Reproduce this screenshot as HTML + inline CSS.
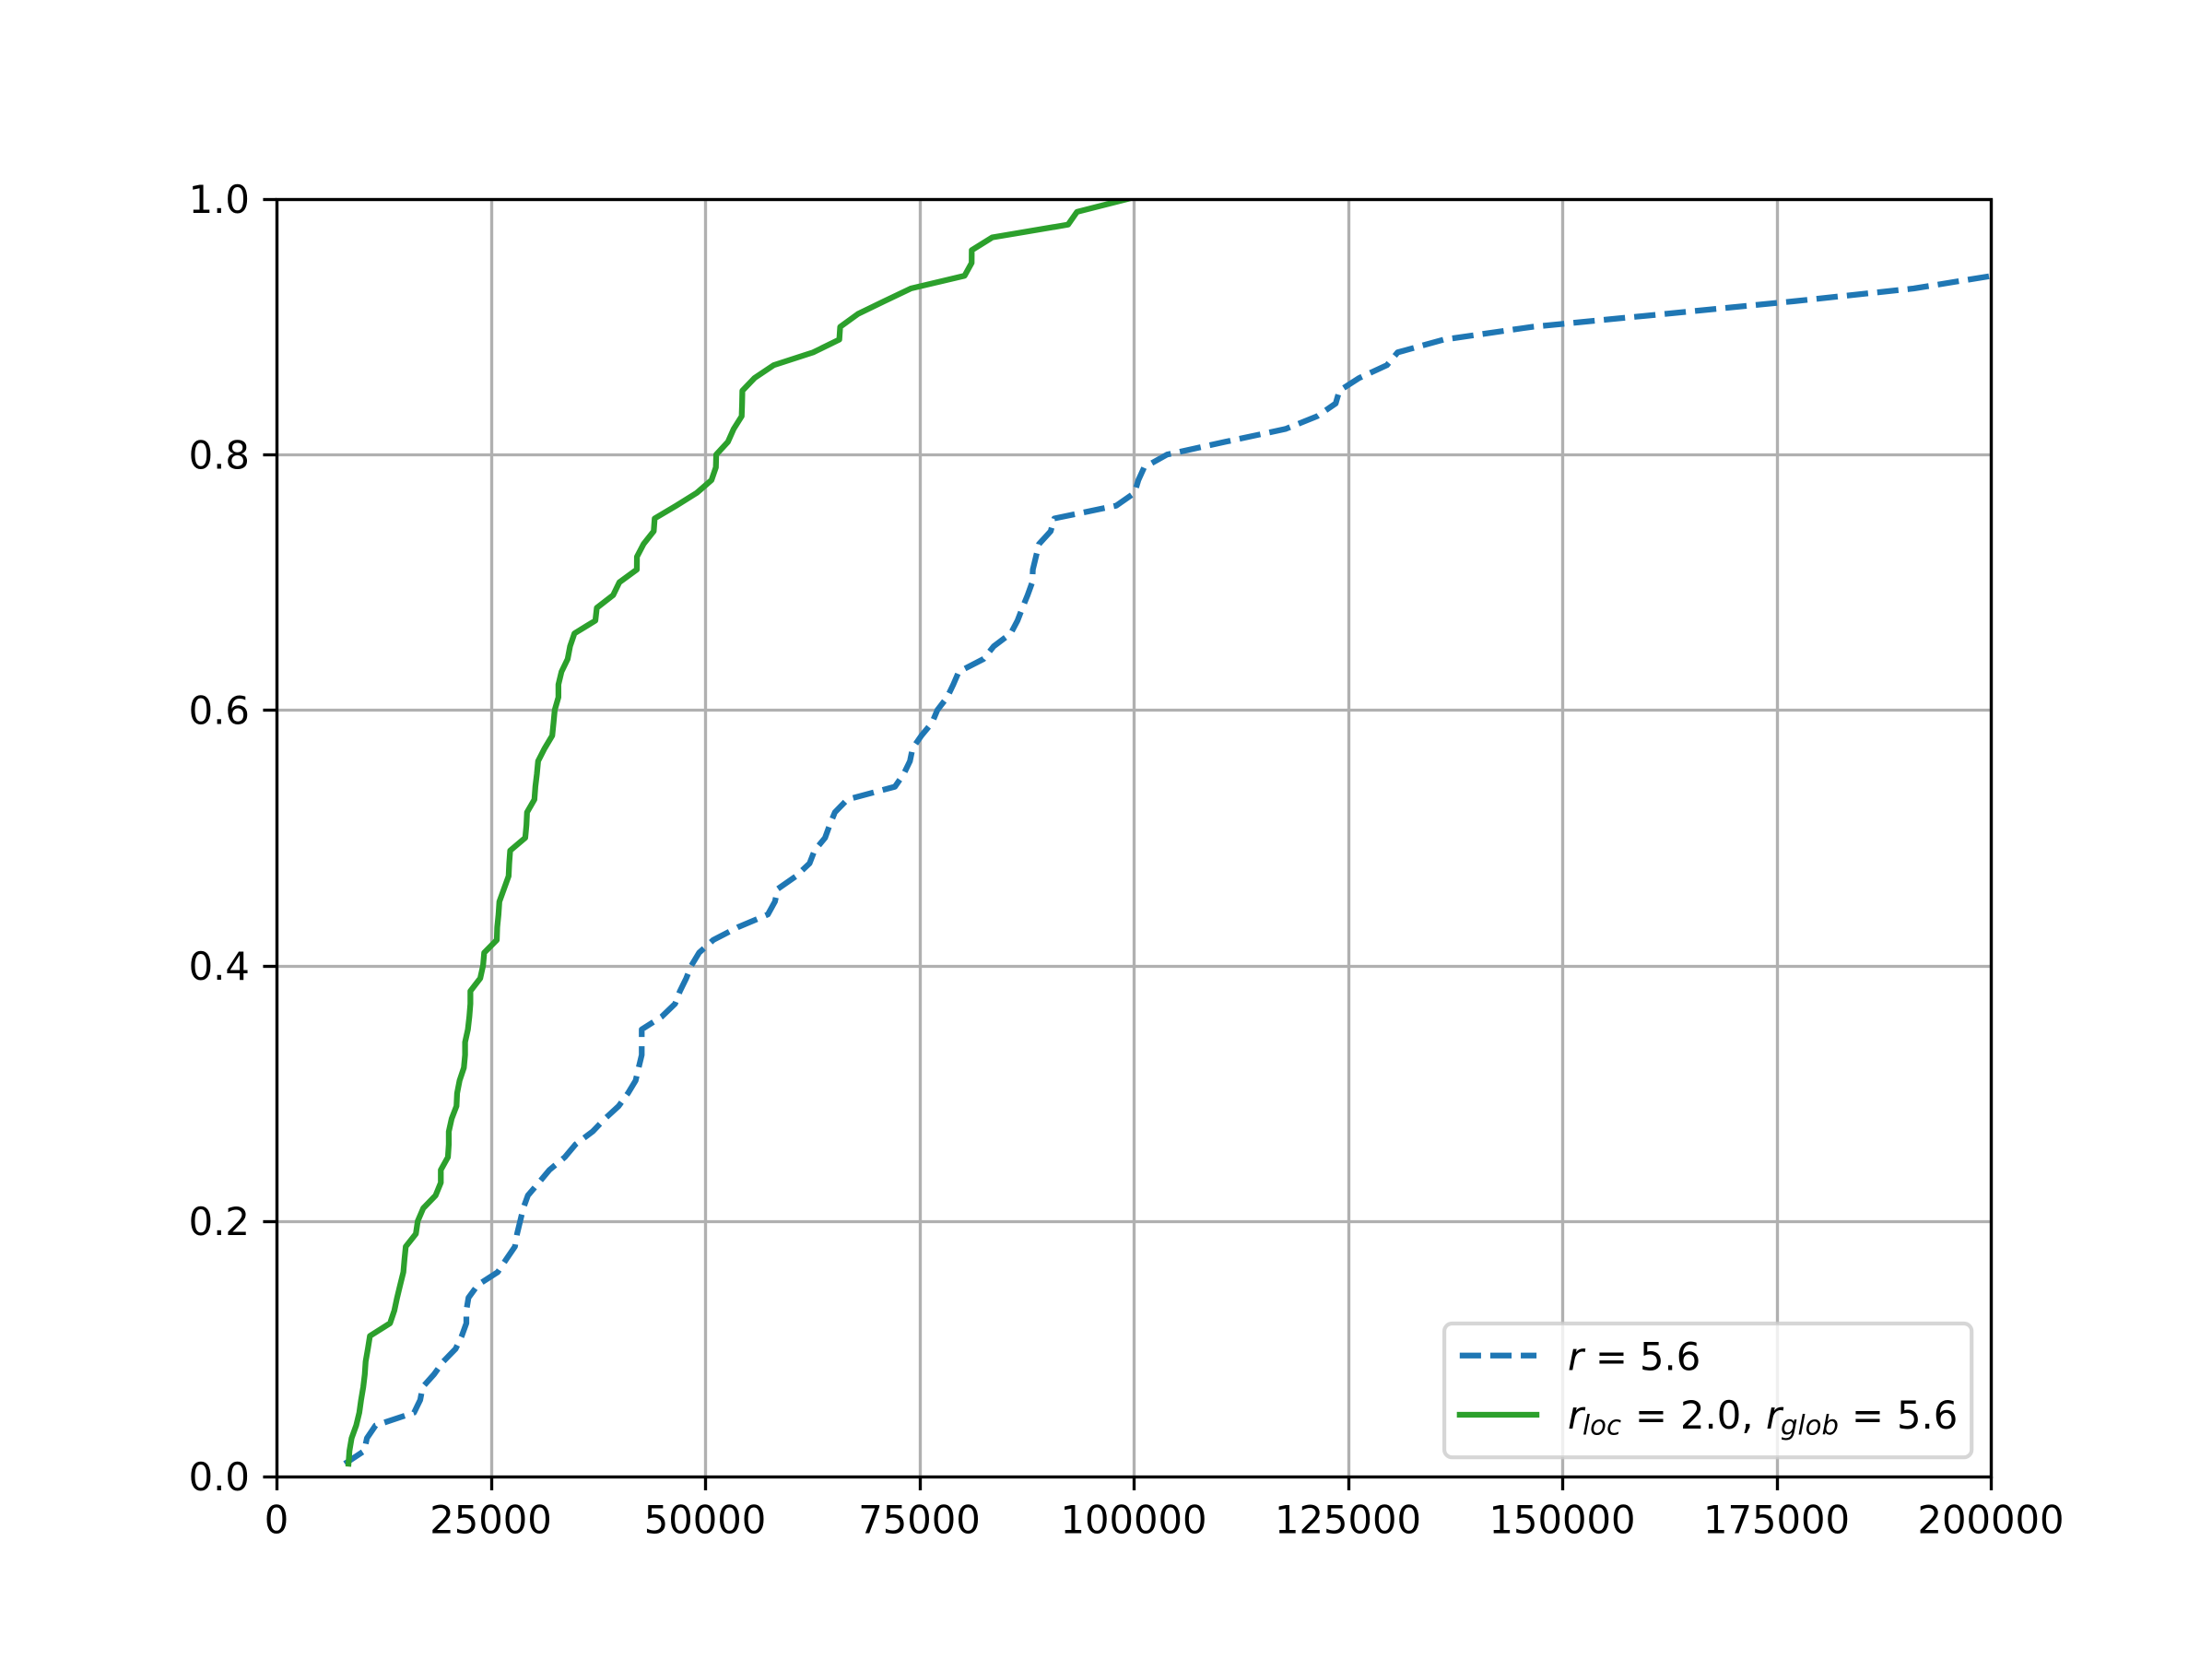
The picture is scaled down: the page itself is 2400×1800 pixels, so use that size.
<!DOCTYPE html>
<html lang="en">
<head>
<meta charset="utf-8">
<title>CDF comparison chart</title>
<style>
html, body { margin: 0; padding: 0; background: #ffffff; }
svg { display: block; }
text { font-family: "DejaVu Sans", "Liberation Sans", sans-serif; fill: #000000; }
</style>
</head>
<body>
<svg id="chart" xmlns="http://www.w3.org/2000/svg" width="2400" height="1800" viewBox="0 0 2400 1800">
  <rect x="0" y="0" width="2400" height="1800" fill="#ffffff"/>
  <defs>
    <clipPath id="plot-clip"><rect x="300" y="216" width="1860" height="1386"/></clipPath>
  </defs>
  <g id="grid-layer"></g>
  <g id="series-layer" clip-path="url(#plot-clip)"></g>
  <rect x="300.5" y="216.5" width="1860" height="1386" fill="none" stroke="#000000" stroke-width="3.33"/>
  <g id="tick-layer"></g>
  <g>
    <rect x="1567.1" y="1436" width="572.1" height="145.2" rx="8.33" ry="8.33" fill="#ffffff" fill-opacity="0.8" stroke="#cccccc" stroke-opacity="0.8" stroke-width="4.17"/>
    <g>
      <line x1="1583.8" y1="1470.7" x2="1667.1" y2="1470.7" stroke="#1f77b4" stroke-width="6.25" stroke-dasharray="23.125 10"/>
      <text y="1486.7" font-size="41.67"><tspan x="1701" font-style="italic">r</tspan><tspan x="1731">=</tspan><tspan x="1779">5.6</tspan></text>
    </g>
    <g>
      <line x1="1583.8" y1="1535" x2="1667.1" y2="1535" stroke="#2ca02c" stroke-width="6.25" stroke-linecap="square"/>
      <text y="1550" font-size="41.67"><tspan x="1701" font-style="italic">r</tspan><tspan x="1717" y="1556.5" font-size="29.17" font-style="italic">loc</tspan><tspan x="1774" y="1550">=</tspan><tspan x="1823">2.0,</tspan><tspan x="1916" font-style="italic">r</tspan><tspan x="1932" y="1556.5" font-size="29.17" font-style="italic">glob</tspan><tspan x="2009" y="1550">=</tspan><tspan x="2058">5.6</tspan></text>
    </g>
  </g>
</svg>
<script>
const xTickValues = [0, 25000, 50000, 75000, 100000, 125000, 150000, 175000, 200000];
const xTickLabels = ["0", "25000", "50000", "75000", "100000", "125000", "150000", "175000", "200000"];
const yTickValues = [0, 0.2, 0.4, 0.6, 0.8, 1.0];
const yTickLabels = ["0.0", "0.2", "0.4", "0.6", "0.8", "1.0"];

const blueY = [0.01,0.02,0.03,0.04,0.05,0.06,0.07,0.08,0.09,0.10,0.11,0.12,0.13,0.14,0.15,0.16,0.17,0.18,0.19,0.20,0.21,0.22,0.23,0.24,0.25,0.26,0.27,0.28,0.29,0.30,0.31,0.32,0.33,0.34,0.35,0.36,0.37,0.38,0.39,0.40,0.41,0.42,0.43,0.44,0.45,0.46,0.47,0.48,0.49,0.50,0.51,0.52,0.53,0.54,0.55,0.56,0.57,0.58,0.59,0.60,0.61,0.62,0.63,0.64,0.65,0.66,0.67,0.68,0.69,0.70,0.71,0.72,0.73,0.74,0.75,0.76,0.77,0.78,0.79,0.80,0.81,0.82,0.83,0.84,0.85,0.86,0.87,0.88,0.89,0.90,0.91,0.92,0.93,0.94];
const blueX = [7970,10230,10550,11560,16050,16770,17050,18380,19460,20900,21610,22150,22150,22400,23500,25810,26800,27820,28070,28430,28790,29330,30600,31840,33640,34890,36870,38300,39920,41000,41900,42250,42610,42610,42610,44950,46500,47070,47800,48400,49300,50950,53830,57330,58150,58480,60620,62190,62770,64000,64540,65150,66600,72150,73180,73900,74210,75240,76480,77100,78250,78960,79600,82500,83690,85660,86450,87020,87630,88170,88240,88600,88960,90320,90750,97960,100100,100550,101230,103900,110700,117700,121400,123570,124000,126330,129550,130800,136180,146500,161800,177000,191000,200200];

const greenY = [0.01,0.02,0.03,0.04,0.05,0.06,0.07,0.08,0.09,0.10,0.11,0.12,0.13,0.14,0.15,0.16,0.17,0.18,0.19,0.20,0.21,0.22,0.23,0.24,0.25,0.26,0.27,0.28,0.29,0.30,0.31,0.32,0.33,0.34,0.35,0.36,0.37,0.38,0.39,0.40,0.41,0.42,0.43,0.44,0.45,0.46,0.47,0.48,0.49,0.50,0.51,0.52,0.53,0.54,0.55,0.56,0.57,0.58,0.59,0.60,0.61,0.62,0.63,0.64,0.65,0.66,0.67,0.68,0.69,0.70,0.71,0.72,0.73,0.74,0.75,0.76,0.77,0.78,0.79,0.80,0.81,0.82,0.83,0.84,0.85,0.86,0.87,0.88,0.89,0.90,0.91,0.92,0.93,0.94,0.95,0.96,0.97,0.98,0.99,1.00];
const greenX = [8400,8510,8760,9300,9660,9870,10120,10300,10400,10660,10900,13250,13750,14070,14430,14800,14930,15080,16260,16480,17120,18560,19170,19170,20000,20100,20100,20430,21000,21070,21360,21860,22000,22000,22330,22500,22620,22620,23770,24100,24230,25700,25750,25900,26000,26540,27080,27150,27260,29020,29160,29230,30090,30200,30380,30520,31280,32170,32320,32460,32890,32890,33250,33970,34250,34760,37200,37370,39280,40000,42040,42050,42830,44010,44120,46630,49030,50750,51260,51300,52670,53330,54270,54320,54350,55780,58010,62610,65660,65760,67820,70870,74000,80280,81100,81110,83510,92350,93390,99250];

const plotLeft = 300;
const plotRight = 2160;
const plotTop = 216;
const plotBottom = 1602;
const xMin = 0;
const xMax = 200000;
const yMin = 0;
const yMax = 1;
const svgNS = "http://www.w3.org/2000/svg";

function xScale(v) { return plotLeft + (v - xMin) / (xMax - xMin) * (plotRight - plotLeft); }
function yScale(v) { return plotBottom - (v - yMin) / (yMax - yMin) * (plotBottom - plotTop); }
function snap(p) { return Math.floor(p + 0.5) + 0.5; }

function makeLine(parent, x1, y1, x2, y2, color, width) {
  const el = document.createElementNS(svgNS, "line");
  el.setAttribute("x1", x1);
  el.setAttribute("y1", y1);
  el.setAttribute("x2", x2);
  el.setAttribute("y2", y2);
  el.setAttribute("stroke", color);
  el.setAttribute("stroke-width", width);
  parent.appendChild(el);
  return el;
}

function makeLabel(parent, x, y, anchor, content) {
  const el = document.createElementNS(svgNS, "text");
  el.setAttribute("x", x);
  el.setAttribute("y", y);
  el.setAttribute("text-anchor", anchor);
  el.setAttribute("font-size", "41.67");
  el.textContent = content;
  parent.appendChild(el);
  return el;
}

function drawSeries(parent, xs, ys, color) {
  const pts = xs.map(function (v, i) { return xScale(v).toFixed(2) + "," + yScale(ys[i]).toFixed(2); }).join(" ");
  const el = document.createElementNS(svgNS, "polyline");
  el.setAttribute("points", pts);
  el.setAttribute("fill", "none");
  el.setAttribute("stroke", color);
  el.setAttribute("stroke-width", "6.25");
  el.setAttribute("stroke-linejoin", "round");
  parent.appendChild(el);
  return el;
}

const gridLayer = document.getElementById("grid-layer");
const tickLayer = document.getElementById("tick-layer");
const seriesLayer = document.getElementById("series-layer");

xTickValues.forEach(function (v, i) {
  const px = snap(xScale(v));
  const g = makeLine(gridLayer, px, plotTop, px, plotBottom, "#b0b0b0", 3.33);
  
  
  const t = makeLine(tickLayer, px, plotBottom, px, plotBottom + 15, "#000000", 3.33);
  
  
  const l = makeLabel(tickLayer, xScale(v), 1663.3, "middle", xTickLabels[i]);
  
  
});

yTickValues.forEach(function (v, i) {
  const py = snap(yScale(v));
  const g = makeLine(gridLayer, plotLeft, py, plotRight, py, "#b0b0b0", 3.33);
  
  
  const t = makeLine(tickLayer, plotLeft - 14.58, py, plotLeft, py, "#000000", 3.33);
  
  
  const l = makeLabel(tickLayer, plotLeft - 29.17, yScale(v) + 15.2, "end", yTickLabels[i]);
  
  
});

const blueLine = drawSeries(seriesLayer, blueX, blueY, "#1f77b4");
blueLine.setAttribute("stroke-dasharray", "23.125 10");



const greenLine = drawSeries(seriesLayer, greenX, greenY, "#2ca02c");
greenLine.setAttribute("stroke-linecap", "square");


</script>
</body>
</html>
